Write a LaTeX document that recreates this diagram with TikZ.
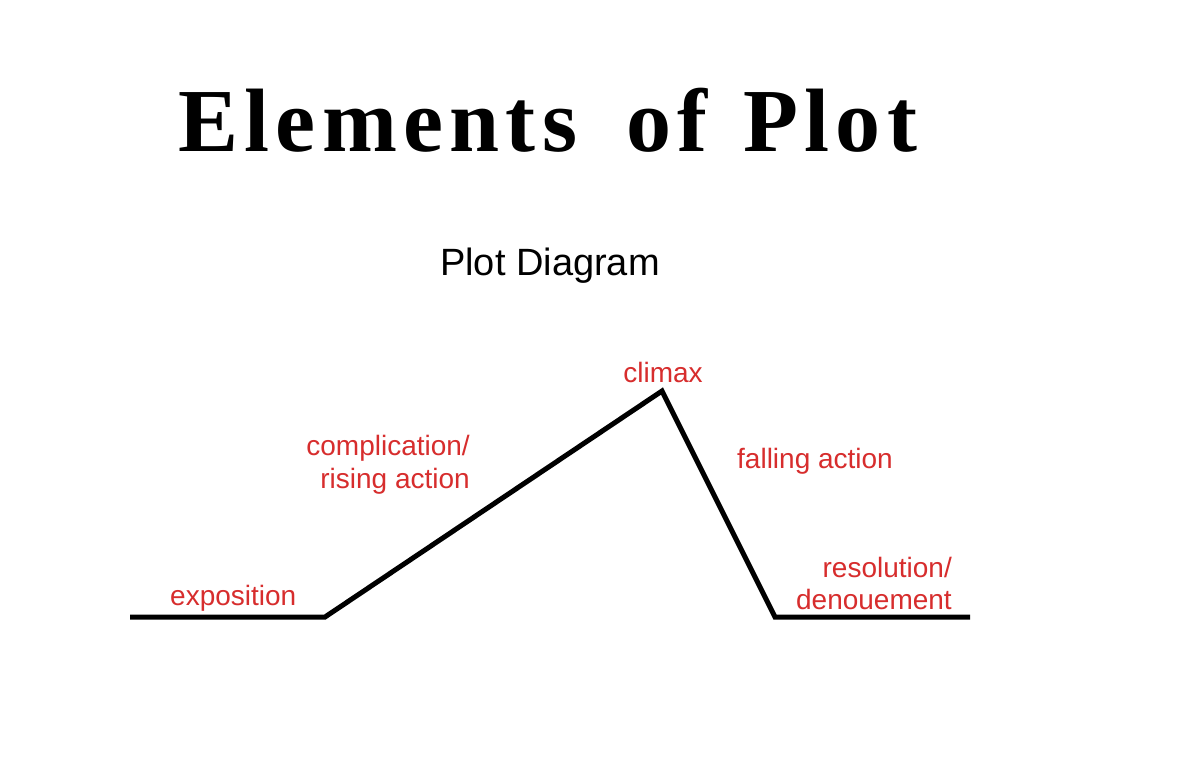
\documentclass[tikz,border=0pt]{standalone}
\usepackage{fontspec}
\setmainfont{Liberation Sans}
\newfontfamily\titlefont[LetterSpace=7]{Liberation Serif}
\definecolor{labelred}{RGB}{215,45,45}
\begin{document}
\begin{tikzpicture}[x=1pt,y=-1pt,
  lbl/.style={inner sep=0pt,text=labelred,font=\fontsize{28}{33}\selectfont},
  plotline/.style={line width=5pt,black,line join=miter}]
\useasboundingbox[fill=white] (0,0) rectangle (1200,776);
\node[inner sep=0pt,anchor=base west,font=\titlefont\bfseries\fontsize{90}{110}\selectfont] (title) at (178,151) {\makebox[448pt][l]{Elements}\makebox[117pt][l]{of}Plot};
\node[inner sep=0pt,anchor=base,font=\fontsize{38}{44}\selectfont] (sub) at (550,275) {Plot Diagram};
\coordinate (a) at (130,617);
\coordinate (b) at (325,617);
\coordinate (c) at (662,391);
\coordinate (d) at (775,617);
\coordinate (e) at (970,617);
\draw[plotline] (a) -- (b) -- (c) -- (d) -- (e);
\node[lbl,anchor=base] (climax) at (663,382) {climax};
\node[lbl,anchor=base east,align=right] (comp1) at (470,455) {complication/};
\node[lbl,anchor=base east,align=right] (comp2) at (470,488) {rising action};
\node[lbl,anchor=base west] (expo) at (170,605) {exposition};
\node[lbl,anchor=base west] (fall) at (737,468) {falling action};
\node[lbl,anchor=base east] (res1) at (952,577) {resolution/};
\node[lbl,anchor=base east] (res2) at (952,609) {denouement};
\end{tikzpicture}
\end{document}
